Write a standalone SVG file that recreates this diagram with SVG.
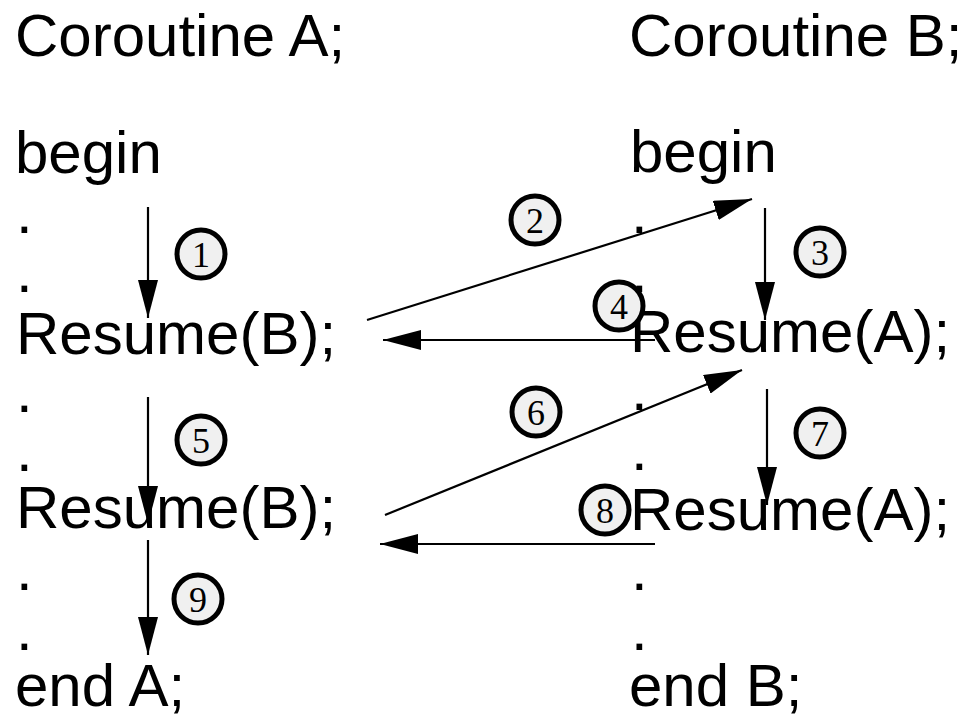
<svg xmlns="http://www.w3.org/2000/svg" width="965" height="715" viewBox="0 0 965 715">
<defs>
<marker id="ah" viewBox="0 0 38 20" refX="38" refY="10" markerWidth="38" markerHeight="20" markerUnits="userSpaceOnUse" orient="auto">
<path d="M0,0 L38,10 L0,20 Z" fill="#000"/>
</marker>
</defs>
<style>
.t{font-family:"Liberation Sans",Arial,sans-serif;font-size:60px;fill:#000}
.c{fill:#f0f0f0;stroke:#000;stroke-width:5}
.n{font-family:"Liberation Serif","Times New Roman",serif;font-size:36px;fill:#000;text-anchor:middle}
.e{stroke:#000;stroke-width:2.2;fill:none;marker-end:url(#ah)}
</style>
<rect width="965" height="715" fill="#fff"/>
<g id="connectors">
<line class="e" x1="148" y1="207" x2="148" y2="318"/>
<line class="e" x1="367" y1="320" x2="752" y2="199"/>
<line class="e" x1="765" y1="208" x2="765" y2="320"/>
<line class="e" x1="655" y1="340" x2="383" y2="340"/>
<line class="e" x1="148" y1="397" x2="148" y2="524"/>
<line class="e" x1="385" y1="515" x2="742" y2="370"/>
<line class="e" x1="767" y1="389" x2="767" y2="505"/>
<line class="e" x1="655" y1="544" x2="380" y2="544"/>
<line class="e" x1="148" y1="540" x2="148" y2="655"/>
</g>
<g id="coroutineA">
<text class="t" x="15" y="56">Coroutine A;</text>
<text class="t" x="15" y="173">begin</text>
<text class="t" x="16" y="233">.</text>
<text class="t" x="16" y="292">.</text>
<text class="t" x="16" y="354">Resume(B);</text>
<text class="t" x="16" y="412">.</text>
<text class="t" x="16" y="471">.</text>
<text class="t" x="16" y="528">Resume(B);</text>
<text class="t" x="16" y="590">.</text>
<text class="t" x="16" y="650">.</text>
<text class="t" x="15" y="706">end A;</text>
</g>
<g id="coroutineB">
<text class="t" x="629" y="56">Coroutine B;</text>
<text class="t" x="630" y="172">begin</text>
<text class="t" x="631" y="233">.</text>
<text class="t" x="631" y="292">.</text>
<text class="t" x="630" y="352">Resume(A);</text>
<text class="t" x="631" y="410">.</text>
<text class="t" x="631" y="470">.</text>
<text class="t" x="630" y="530">Resume(A);</text>
<text class="t" x="631" y="590">.</text>
<text class="t" x="631" y="650">.</text>
<text class="t" x="629" y="706">end B;</text>
</g>
<g id="step1"><circle class="c" cx="201" cy="254" r="24"/><text class="n" x="201" y="267">1</text></g>
<g id="step2"><circle class="c" cx="535" cy="220" r="24"/><text class="n" x="535" y="233">2</text></g>
<g id="step3"><circle class="c" cx="820" cy="252" r="24"/><text class="n" x="820" y="265">3</text></g>
<g id="step4"><circle class="c" cx="619" cy="306" r="24"/><text class="n" x="619" y="319">4</text></g>
<g id="step5"><circle class="c" cx="201" cy="440" r="24"/><text class="n" x="201" y="453">5</text></g>
<g id="step6"><circle class="c" cx="536" cy="412" r="24"/><text class="n" x="536" y="425">6</text></g>
<g id="step7"><circle class="c" cx="820" cy="433" r="24"/><text class="n" x="820" y="446">7</text></g>
<g id="step8"><circle class="c" cx="605" cy="510" r="24"/><text class="n" x="605" y="523">8</text></g>
<g id="step9"><circle class="c" cx="198" cy="599" r="24"/><text class="n" x="198" y="612">9</text></g>
</svg>
